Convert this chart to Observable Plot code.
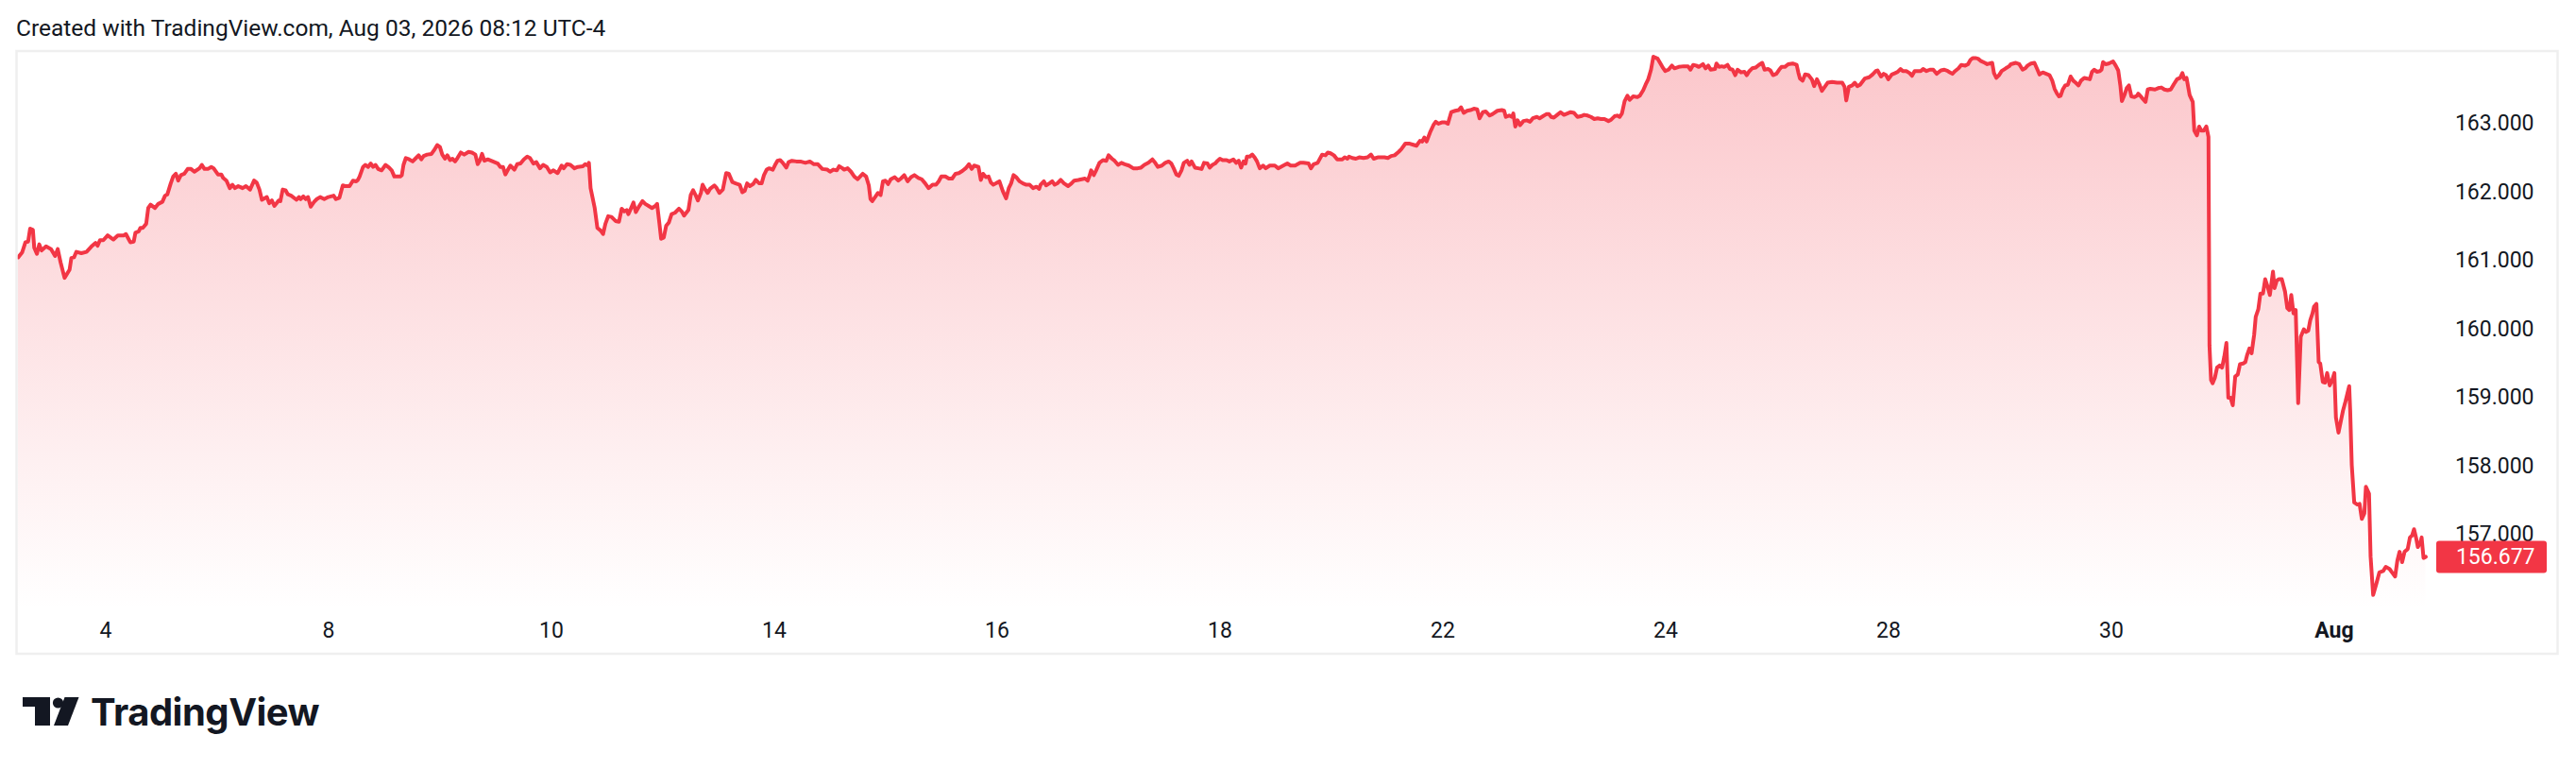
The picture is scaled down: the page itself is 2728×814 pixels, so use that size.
<!DOCTYPE html>
<html>
<head>
<meta charset="utf-8">
<script src="https://cdn.jsdelivr.net/npm/d3@7"></script>
<script src="https://cdn.jsdelivr.net/npm/@observablehq/plot@0.6"></script>
<style>
  html, body { margin: 0; padding: 0; background: #ffffff; }
  body { width: 2728px; height: 814px; overflow: hidden; position: relative; }
  #title { position: absolute; left: 17px; top: 18px; font-family: Roboto, sans-serif; font-size: 24.5px; line-height: 24px; color: #131722; white-space: nowrap; }
  #chart { position: absolute; left: 0; top: 50px; }
  #footer { position: absolute; left: 0; top: 720px; }
</style>
</head>
<body>
<div id="title">Created with TradingView.com, Aug 03, 2026 08:12 UTC-4</div>
<div id="chart"></div>
<svg id="footer" width="420" height="70" xmlns="http://www.w3.org/2000/svg">
  <g fill="#131722">
    <path d="M24 18 H53 V48 H37 V28 H24 Z"/>
    <circle cx="61.5" cy="24" r="5.6"/>
    <path d="M68.5 18 H83.5 L72 48 H57 Z"/>
    <text x="96" y="48" font-family="Inter, 'Noto Sans', sans-serif" font-weight="700" font-size="40" letter-spacing="-0.5">TradingView</text>
  </g>
</svg>
<script>
// ---- data (x = trading-day offset from the "4" tick, y = price) ----
const dayIndex = [
-0.785,-0.75,-0.72,-0.696,-0.678,-0.653,-0.641,-0.617,-0.596,-0.575,-0.535,-0.49,-0.454,-0.43,-0.405,-0.369,-0.324,-0.308,-0.284,-0.263,-0.218,-0.172,-0.127,-0.09,-0.072,-0.051,-0.021,0.018,0.07,0.109,0.161,0.182,0.221,0.252,0.267,0.297,0.312,0.333,0.364,0.382,0.403,0.442,0.472,0.509,0.533,0.554,0.584,0.606,0.63,0.651,0.675,0.706,0.736,0.766,0.796,0.842,0.863,0.887,0.917,0.948,0.969,1.008,1.038,1.054,1.084,1.114,1.138,1.16,1.19,1.229,1.259,1.296,1.332,1.356,1.38,1.402,1.447,1.468,1.492,1.514,1.553,1.568,1.589,1.614,1.635,1.665,1.713,1.735,1.75,1.774,1.795,1.816,1.84,1.871,1.895,1.925,1.962,1.998,2.046,2.067,2.098,2.128,2.149,2.189,2.219,2.249,2.264,2.279,2.31,2.331,2.355,2.379,2.40,2.422,2.446,2.476,2.512,2.543,2.567,2.591,2.643,2.658,2.673,2.694,2.724,2.755,2.779,2.809,2.833,2.854,2.885,2.924,2.954,2.976,3.0,3.021,3.045,3.066,3.091,3.112,3.136,3.157,3.187,3.218,3.257,3.287,3.318,3.339,3.36,3.378,3.399,3.429,3.475,3.52,3.541,3.566,3.587,3.611,3.632,
3.668,3.693,3.723,3.753,3.783,3.808,3.838,3.865,3.898,3.926,3.959,3.989,4.019,4.056,4.092,4.11,4.14,4.171,4.207,4.237,4.283,4.304,4.328,4.337,4.352,4.389,4.413,4.443,4.464,4.485,4.51,4.54,4.576,4.607,4.631,4.655,4.676,4.691,4.716,4.737,4.758,4.782,4.818,4.843,4.873,4.903,4.933,4.949,4.97,4.985,5.009,5.03,5.055,5.079,5.109,5.145,5.17,5.191,5.23,5.251,5.272,5.297,5.315,5.342,5.357,5.381,5.403,5.424,5.463,5.484,5.508,5.539,5.569,5.593,5.624,5.654,5.69,5.714,5.735,5.757,5.781,5.811,5.835,5.866,5.887,5.908,5.932,5.956,5.987,6.008,6.029,6.053,6.077,6.108,6.129,6.159,6.199,6.235,6.28,6.32,6.356,6.392,6.432,6.477,6.501,6.532,6.562,6.583,6.613,6.628,6.659,6.689,6.719,6.749,6.795,6.825,6.849,6.864,6.88,6.91,6.931,6.955,6.976,6.998,7.022,7.046,7.082,7.113,7.137,7.167,7.197,7.228,7.258,7.294,7.324,7.355,7.385,7.421,7.452,7.476,7.50,7.536,7.567,7.597,7.627,7.657,7.688,7.718,7.748,7.772,7.794,7.833,7.854,7.875,7.90,7.924,7.945,7.966,7.99,8.021,8.051,8.081,8.105,8.126,8.148,8.172,8.202,8.232,8.263,8.293,8.323,8.353,8.378,
8.39,8.42,8.44,8.47,8.495,8.517,8.541,8.571,8.601,8.638,8.668,8.692,8.729,8.759,8.789,8.813,8.828,8.844,8.868,8.889,8.919,8.95,8.98,9.001,9.031,9.055,9.086,9.116,9.146,9.183,9.222,9.261,9.292,9.322,9.358,9.394,9.419,9.443,9.479,9.509,9.54,9.564,9.585,9.609,9.63,9.655,9.676,9.706,9.727,9.746,9.776,9.806,9.836,9.857,9.888,9.909,9.933,9.957,9.979,10.0,10.024,10.06,10.085,10.121,10.145,10.169,10.19,10.212,10.23,10.242,10.266,10.29,10.311,10.333,10.357,10.387,10.411,10.448,10.493,10.523,10.569,10.605,10.635,10.675,10.72,10.75,10.796,10.817,10.841,10.877,10.917,10.947,10.968,10.993,11.023,11.053,11.098,11.12,11.144,11.159,11.189,11.22,11.25,11.289,11.325,11.356,11.38,11.416,11.477,11.507,11.537,11.568,11.604,11.628,11.664,11.704,11.743,11.764,11.795,11.816,11.834,11.855,11.885,11.916,11.937,11.961,11.991,12.022,12.046,12.076,12.112,12.143,12.164,12.188,12.218,12.248,12.279,12.309,12.33,12.36,12.385,12.421,12.445,12.49,12.53,12.551,12.566,12.596,12.621,12.633,12.651,12.672,12.694,12.724,12.754,12.784,12.808,12.845,12.869,12.899,12.929,12.954,
12.973,12.997,13.027,13.057,13.088,13.118,13.148,13.178,13.209,13.239,13.269,13.30,13.33,13.36,13.39,13.421,13.451,13.487,13.511,13.542,13.566,13.587,13.608,13.632,13.657,13.678,13.708,13.747,13.769,13.799,13.82,13.844,13.869,13.89,13.929,13.95,13.971,13.996,14.026,14.056,14.08,14.117,14.162,14.201,14.223,14.247,14.274,14.298,14.335,14.359,14.383,14.404,14.444,14.456,14.48,14.504,14.525,14.556,14.577,14.601,14.625,14.646,14.677,14.707,14.728,14.752,14.777,14.807,14.837,14.867,14.888,14.919,14.94,14.964,14.994,15.019,15.04,15.07,15.1,15.14,15.176,15.191,15.206,15.23,15.252,15.282,15.312,15.333,15.358,15.382,15.403,15.433,15.454,15.494,15.539,15.563,15.585,15.606,15.621,15.645,15.675,15.697,15.721,15.745,15.787,15.827,15.857,15.887,15.902,15.933,15.957,15.978,15.999,16.03,16.06,16.084,16.108,16.129,16.16,16.19,16.211,16.235,16.266,16.29,16.311,16.341,16.372,16.402,16.432,16.471,16.502,16.532,16.553,16.574,16.598,16.629,16.653,16.689,16.714,16.735,16.756,16.78,16.804,16.826,16.865,16.886,16.907,16.931,16.947,16.968,16.992,17.016,17.053,17.083,17.098,17.143,17.174,17.204,17.228,17.249,17.279,17.31,17.34,17.355,17.385,17.416,17.446,17.47,17.491,17.513,17.531,
17.545,17.564,17.587,17.61,17.635,17.658,17.68,17.706,17.728,17.757,17.785,17.807,17.827,17.847,17.87,17.898,17.912,17.926,17.949,17.977,18.016,18.039,18.062,18.081,18.095,18.118,18.138,18.158,18.18,18.208,18.231,18.242,18.265,18.279,18.307,18.327,18.35,18.392,18.42,18.449,18.477,18.505,18.533,18.562,18.59,18.618,18.638,18.655,18.675,18.703,18.731,18.745,18.768,18.788,18.807,18.83,18.853,18.872,18.881,18.895,18.909,18.929,18.949,18.971,18.994,19.014,19.033,19.05,19.07,19.09,19.112,19.135,19.155,19.183,19.203,19.22,19.24,19.259,19.282,19.296,19.319,19.338,19.361,19.381,19.401,19.423,19.451,19.465,19.485,19.502,19.53,19.559,19.579,19.598,19.615,19.635,19.655,19.677,19.7,19.728,19.748,19.768,19.785,19.805,19.819,19.841,19.861,19.875,19.898,19.918,19.937,19.96,19.983,20.002,20.016,20.039,20.059,20.079,20.101,20.135,20.144,20.158,20.18,20.208,20.228,20.248,20.271,20.285,20.313,20.327,20.35,20.378,20.406,20.44,20.463,20.497,20.519,20.547,20.567,20.587,20.61,20.632,20.66,20.68,20.70,20.717,20.737,20.751,20.774,20.785,20.802,20.822
];
const closePrice = [
161.05,161.12,161.27,161.28,161.47,161.45,161.19,161.10,161.24,161.15,161.21,161.17,161.07,161.17,160.98,160.75,160.87,161.04,161.05,161.13,161.11,161.13,161.21,161.26,161.22,161.30,161.30,161.37,161.31,161.37,161.37,161.39,161.27,161.28,161.41,161.43,161.48,161.48,161.54,161.77,161.82,161.77,161.83,161.86,161.95,161.97,162.13,162.23,162.27,162.17,162.25,162.27,162.34,162.34,162.30,162.35,162.40,162.34,162.34,162.37,162.35,162.26,162.26,162.21,162.17,162.06,162.11,162.06,162.09,162.06,162.09,162.04,162.17,162.14,162.04,161.89,161.93,161.84,161.88,161.80,161.88,161.87,162.04,162.03,161.97,161.95,161.89,161.93,161.90,161.94,161.90,161.93,161.79,161.86,161.90,161.93,161.90,161.93,161.95,161.90,161.92,162.10,162.09,162.09,162.17,162.16,162.18,162.23,162.37,162.40,162.37,162.42,162.37,162.40,162.34,162.32,162.40,162.36,162.32,162.23,162.23,162.25,162.40,162.50,162.48,162.45,162.49,162.54,162.48,162.53,162.55,162.56,162.63,162.69,162.66,162.55,162.49,162.54,162.47,162.49,162.45,162.50,162.58,162.55,162.59,162.58,162.55,162.41,162.47,162.56,162.46,162.48,162.45,162.42,162.37,162.37,162.26,162.33,162.39,
162.33,162.41,162.42,162.48,162.52,162.50,162.42,162.44,162.35,162.40,162.37,162.29,162.32,162.28,162.39,162.35,162.41,162.40,162.35,162.37,162.38,162.41,162.39,162.43,162.06,161.77,161.48,161.44,161.39,161.54,161.65,161.64,161.58,161.57,161.76,161.72,161.74,161.68,161.77,161.85,161.71,161.78,161.87,161.83,161.80,161.77,161.80,161.83,161.54,161.32,161.34,161.51,161.56,161.68,161.70,161.76,161.72,161.66,161.74,161.96,162.03,161.95,161.88,161.99,162.11,162.04,161.99,162.05,162.10,162.06,161.99,162.04,162.28,162.27,162.15,162.13,162.11,162.00,162.02,162.13,162.09,162.12,162.18,162.13,162.13,162.25,162.33,162.35,162.33,162.40,162.46,162.47,162.43,162.36,162.44,162.46,162.45,162.45,162.43,162.45,162.41,162.41,162.34,162.33,162.30,162.33,162.32,162.38,162.35,162.33,162.35,162.30,162.23,162.19,162.27,162.23,162.10,161.90,161.87,161.94,161.99,161.96,162.16,162.17,162.12,162.19,162.22,162.17,162.20,162.25,162.16,162.22,162.25,162.21,162.19,162.13,162.06,162.11,162.11,162.16,162.23,162.23,162.20,162.20,162.27,162.28,162.31,162.35,162.41,162.34,162.39,162.37,162.18,162.27,162.22,162.23,162.14,162.11,162.13,162.16,162.02,161.91,162.06,162.13,162.25,162.22,162.16,162.13,162.11,162.11,162.06,162.08,162.05,
162.11,162.16,162.10,162.13,162.16,162.11,162.13,162.18,162.13,162.09,162.13,162.17,162.18,162.19,162.20,162.17,162.23,162.32,162.25,162.32,162.43,162.47,162.46,162.54,162.49,162.46,162.40,162.43,162.41,162.39,162.35,162.35,162.36,162.40,162.43,162.48,162.43,162.37,162.39,162.43,162.45,162.42,162.35,162.26,162.24,162.32,162.43,162.46,162.40,162.45,162.36,162.35,162.34,162.43,162.42,162.36,162.40,162.42,162.46,162.49,162.47,162.47,162.45,162.48,162.43,162.46,162.36,162.45,162.42,162.52,162.52,162.55,162.51,162.45,162.35,162.39,162.35,162.39,162.39,162.35,162.39,162.42,162.39,162.39,162.43,162.43,162.42,162.35,162.41,162.43,162.55,162.54,162.58,162.57,162.54,162.48,162.48,162.51,162.49,162.52,162.50,162.49,162.51,162.50,162.51,162.55,162.49,162.51,162.51,162.50,162.53,162.54,162.59,162.63,162.71,162.71,162.69,162.68,162.75,162.74,162.80,162.74,162.87,162.98,163.03,163.00,163.02,163.02,163.00,163.17,163.19,163.20,163.24,163.16,163.19,163.20,163.22,163.21,163.08,163.17,163.18,163.12,163.14,163.19,163.20,163.19,163.10,163.12,163.10,163.15,162.96,163.05,162.98,163.04,163.05,163.03,163.08,163.10,163.08,163.11,163.14,163.14,
163.10,163.09,163.13,163.17,163.13,163.15,163.17,163.16,163.10,163.11,163.13,163.12,163.10,163.07,163.08,163.07,163.07,163.04,163.06,163.11,163.12,163.10,163.15,163.33,163.41,163.35,163.40,163.39,163.41,163.49,163.57,163.65,163.79,163.98,163.95,163.89,163.83,163.77,163.79,163.85,163.81,163.83,163.84,163.84,163.79,163.86,163.85,163.83,163.87,163.81,163.85,163.79,163.80,163.88,163.83,163.84,163.83,163.86,163.80,163.79,163.71,163.79,163.75,163.76,163.71,163.77,163.81,163.82,163.86,163.89,163.79,163.80,163.78,163.71,163.73,163.79,163.83,163.83,163.87,163.88,163.86,163.75,163.66,163.63,163.72,163.71,163.65,163.55,163.65,163.57,163.48,163.55,163.60,163.61,163.60,163.60,163.60,163.54,163.34,163.54,163.56,163.60,163.55,163.57,163.66,163.68,163.72,163.77,163.78,163.69,163.73,163.71,163.65,163.72,163.74,163.76,163.80,163.77,163.77,163.74,163.70,163.77,163.77,163.77,163.80,163.77,163.79,163.79,163.73,163.78,163.79,163.77,163.75,163.73,163.77,163.81,163.86,163.85,163.87,163.93,163.96,163.96,163.95,163.92,163.89,163.87,163.88,163.89,163.74,163.67,163.71,163.77,163.81,163.84,163.87,163.89,163.87,163.79,163.81,163.85,163.88,163.89,163.78,163.72,163.75,163.73,163.71,163.63,163.51,163.44,163.40,
163.41,163.50,163.56,163.57,163.69,163.63,163.60,163.56,163.63,163.67,163.66,163.65,163.76,163.79,163.76,163.77,163.79,163.90,163.87,163.88,163.91,163.85,163.78,163.56,163.33,163.42,163.52,163.56,163.40,163.39,163.41,163.44,163.40,163.37,163.32,163.50,163.51,163.50,163.52,163.53,163.50,163.49,163.50,163.58,163.65,163.67,163.74,163.65,163.67,163.42,163.32,162.90,162.83,162.96,162.90,162.90,162.96,162.81,159.76,159.26,159.21,159.29,159.44,159.47,159.44,159.60,159.80,159.00,159.00,158.89,159.31,159.34,159.49,159.50,159.52,159.63,159.72,159.65,159.92,160.18,160.29,160.52,160.52,160.73,160.63,160.50,160.84,160.60,160.71,160.73,160.73,160.55,160.31,160.28,160.50,160.23,160.28,158.92,159.89,160.00,159.96,159.98,160.13,160.23,160.33,160.37,159.52,159.50,159.23,159.22,159.36,159.18,159.26,159.36,158.71,158.49,158.65,158.81,158.94,159.17,158.81,158.02,157.47,157.44,157.45,157.23,157.31,157.70,157.60,156.68,156.12,156.28,156.45,156.47,156.53,156.50,156.45,156.39,156.62,156.75,156.60,156.75,156.79,156.96,156.99,157.08,156.94,156.82,156.89,156.96,156.66,156.677
];
const xTickPos    = [0, 2, 4, 6, 8, 10, 12, 14, 16, 18, 20];
const xTickLabels = ["4", "8", "10", "14", "16", "18", "22", "24", "28", "30", "Aug"];
const yTicks      = [157, 158, 159, 160, 161, 162, 163];
const lastPrice   = 156.677;
const xDomain     = [-0.7915, 20.878];
const yDomain     = [155.903, 164.028];

// ---- build ----
const series = dayIndex.map((t, i) => ({t, p: closePrice[i]}));
const ticks = xTickPos.map((t, i) => ({t, label: xTickLabels[i], month: isNaN(+xTickLabels[i])}));
const RED = "#F23645";
const INK = "#131722";
const yTop = d3.max(closePrice);

function gradientDefs(index, scales, values, dims) {
  const y0 = scales && scales.y ? scales.y(yTop) : dims.marginTop;
  const y1 = dims.height - dims.marginBottom;
  const defs = d3.create("svg:defs");
  const lg = defs.append("linearGradient").attr("id", "tvFill")
    .attr("gradientUnits", "userSpaceOnUse")
    .attr("x1", 0).attr("x2", 0).attr("y1", y0).attr("y2", y1);
  lg.append("stop").attr("offset", 0).attr("stop-color", RED).attr("stop-opacity", 0.28);
  lg.append("stop").attr("offset", 1).attr("stop-color", RED).attr("stop-opacity", 0.0);
  return defs.node();
}
function paneFrame(index, scales, values, dims) {
  return d3.create("svg:rect")
    .attr("x", 17.5).attr("y", 4).attr("width", dims.width - 37).attr("height", dims.height - 12)
    .attr("fill", "none").attr("stroke", "#efefef").attr("stroke-width", 2.5).node();
}
function priceTag(index, scales, values, dims) {
  const y = scales.y(lastPrice);
  const x0 = dims.width - dims.marginRight;
  return d3.create("svg:rect")
    .attr("x", x0 + 5).attr("y", y - 16.5).attr("width", 117).attr("height", 34).attr("rx", 3)
    .attr("fill", RED).node();
}

const chart = Plot.plot({
  width: 2728,
  height: 650,
  marginLeft: 18,
  marginRight: 153,
  marginTop: 6,
  marginBottom: 55,
  x: {type: "linear", domain: xDomain, axis: null},
  y: {type: "linear", domain: yDomain, axis: null},
  style: {fontFamily: "Roboto, sans-serif", fontSize: "23px", color: INK, background: "transparent", overflow: "visible"},
  marks: [
    gradientDefs,
    Plot.areaY(series, {x: "t", y1: yDomain[0], y2: "p", fill: "url(#tvFill)"}),
    Plot.line(series, {x: "t", y: "p", stroke: RED, strokeWidth: 4, strokeLinejoin: "round", strokeLinecap: "round"}),
    paneFrame,
    Plot.text(ticks.filter(d => !d.month), {x: "t", text: "label", frameAnchor: "bottom", dy: 22.5, lineAnchor: "middle", fill: INK}),
    Plot.text(ticks.filter(d => d.month), {x: "t", text: "label", frameAnchor: "bottom", dy: 22.5, lineAnchor: "middle", fill: INK, fontWeight: "bold"}),
    Plot.text(yTicks, {y: d => d, text: d => d.toFixed(3), frameAnchor: "right", dx: 108, textAnchor: "end", lineAnchor: "middle", fill: INK}),
    priceTag,
    Plot.text([lastPrice], {y: d => d, text: d => d.toFixed(3), frameAnchor: "right", dx: 109, textAnchor: "end", lineAnchor: "middle", fill: "#ffffff"})
  ]
});
document.getElementById("chart").appendChild(chart);
</script>
</body>
</html>
